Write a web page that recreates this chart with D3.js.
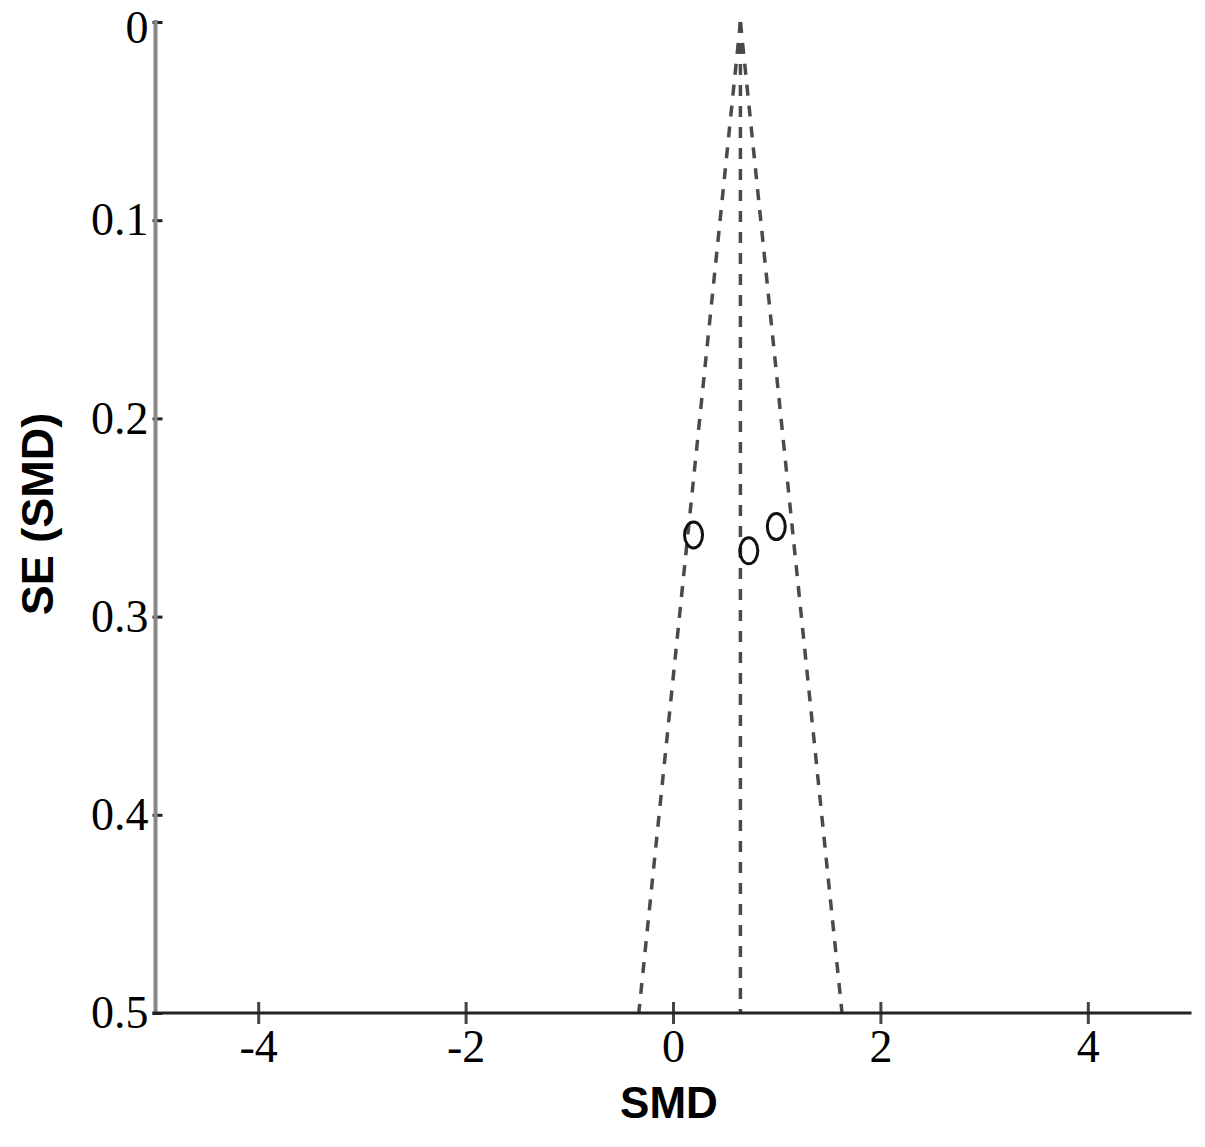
<!DOCTYPE html>
<html lang="en">
<head>
<meta charset="utf-8">
<title>Funnel plot</title>
<script src="https://cdn.jsdelivr.net/npm/d3@7"></script>
<style>
body { margin: 0; background: #fff; }
svg { display: block; }
.tick text { font-family: "Liberation Serif", "Times New Roman", serif; }
.title { font-family: "Liberation Sans", Arial, sans-serif; font-weight: bold; }
</style>
</head>
<body>
<script>
// studies: standardised mean difference and its standard error
var studySMD = [0.198, 0.731, 0.996];
var studySE = [0.2588, 0.2668, 0.2546];
var pooledSMD = 0.65;
var xTicks = [-4, -2, 0, 2, 4];
var yTicks = [0, 0.1, 0.2, 0.3, 0.4, 0.5];

var w = 1205, h = 1147;
var plotLeft = 154.5, plotRight = 1191.5, plotTop = 22, plotBottom = 1013;

var svg = d3.select("body").append("svg")
    .attr("width", w)
    .attr("height", h);

var x = d3.scaleLinear().domain([-5, 5]).range([plotLeft, plotRight]);
var y = d3.scaleLinear().domain([0, 0.5]).range([plotTop, plotBottom]);

// funnel (pseudo 95% limits) and the pooled line
var seMax = 0.5;
var funnel = [
    [[pooledSMD, 0], [pooledSMD - 1.96 * seMax, seMax]],
    [[pooledSMD, 0], [pooledSMD + 1.96 * seMax, seMax]],
    [[pooledSMD, 0], [pooledSMD, seMax]]
];
var line = d3.line().x(function(d) { return x(d[0]); }).y(function(d) { return y(d[1]); });
svg.selectAll("path.funnel")
    .data(funnel)
    .enter().append("path")
    .attr("class", "funnel")
    .attr("d", line)
    .attr("fill", "none")
    .attr("stroke", "#4a4a4a")
    .attr("stroke-width", 3.5)
    .attr("stroke-dasharray", "11,10");

// y axis: gray line, black ticks
var yAxis = svg.append("g")
    .attr("transform", "translate(" + (plotLeft + 1) + ",0)")
    .call(d3.axisRight(y).tickValues(yTicks).tickSize(7).tickFormat(function(d) { return String(d); }));
yAxis.select(".domain").remove();
yAxis.selectAll(".tick line").attr("stroke", "#222").attr("stroke-width", 3)
    .attr("x1", -3);
yAxis.selectAll(".tick text")
    .attr("x", -7)
    .attr("dy", function(d) { return d === 0 ? "0.45em" : "0.32em"; })
    .attr("text-anchor", "end")
    .attr("font-size", 46)
    .attr("fill", "#000");
svg.append("line")
    .attr("x1", plotLeft + 1).attr("x2", plotLeft + 1)
    .attr("y1", plotTop - 2).attr("y2", plotBottom)
    .attr("stroke", "#888")
    .attr("stroke-width", 4);

// x axis
var xAxis = svg.append("g")
    .attr("transform", "translate(0," + plotBottom + ")")
    .call(d3.axisBottom(x).tickValues(xTicks).tickSize(0).tickFormat(function(d) { return String(d); }));
xAxis.select(".domain").remove();
xAxis.selectAll(".tick line")
    .attr("y1", -11).attr("y2", 11)
    .attr("stroke", "#444").attr("stroke-width", 3);
xAxis.selectAll(".tick text")
    .attr("y", 49)
    .attr("dy", 0)
    .attr("font-size", 46)
    .attr("fill", "#000");
svg.append("line")
    .attr("x1", plotLeft - 2).attr("x2", plotRight)
    .attr("y1", plotBottom).attr("y2", plotBottom)
    .attr("stroke", "#222")
    .attr("stroke-width", 3);

// studies
svg.selectAll("ellipse.study")
    .data(studySMD)
    .enter().append("ellipse")
    .attr("class", "study")
    .attr("cx", function(d) { return x(d); })
    .attr("cy", function(d, i) { return y(studySE[i]); })
    .attr("rx", 9)
    .attr("ry", 13)
    .attr("fill", "none")
    .attr("stroke", "#111")
    .attr("stroke-width", 3);

// titles
svg.append("text")
    .attr("class", "title")
    .attr("x", 669).attr("y", 1118)
    .attr("text-anchor", "middle")
    .attr("font-size", 44)
    .text("SMD");
svg.append("text")
    .attr("class", "title")
    .attr("transform", "translate(53,514) rotate(-90)")
    .attr("text-anchor", "middle")
    .attr("font-size", 45)
    .text("SE (SMD)");
</script>
</body>
</html>
